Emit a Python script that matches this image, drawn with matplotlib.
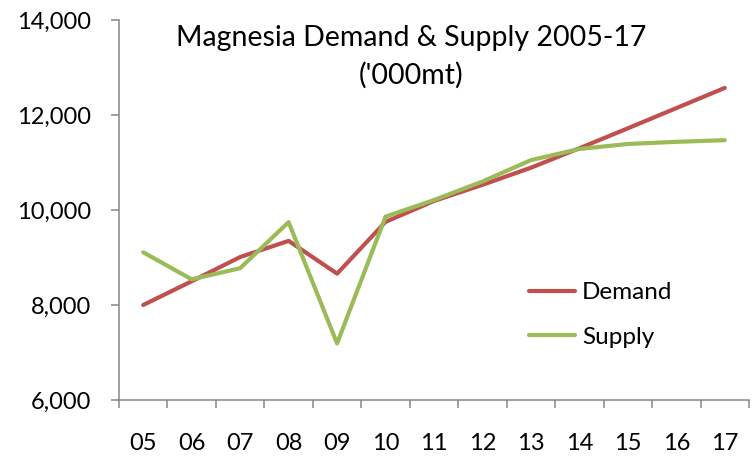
import matplotlib

matplotlib.use("Agg")
import matplotlib.pyplot as plt
from matplotlib.ticker import FuncFormatter, FixedLocator

years = ["05", "06", "07", "08", "09", "10", "11", "12", "13", "14", "15", "16", "17"]
demand = [8000, 8500, 9010, 9350, 8660, 9750, 10190, 10530, 10890, 11300, 11720, 12145, 12570]
supply = [9110, 8540, 8775, 9745, 7190, 9860, 10210, 10600, 11050, 11285, 11390, 11435, 11470]

plt.rcParams["font.family"] = ["Lato", "DejaVu Sans"]

fig = plt.figure(figsize=(7.53, 4.57), dpi=100)
ax = fig.add_axes([119 / 753, 57 / 457, 630 / 753, 380 / 457])

x = list(range(len(years)))
ax.plot(x, demand, color="#C0504D", linewidth=3.0, solid_capstyle="round", label="Demand")
ax.plot(x, supply, color="#9BBB59", linewidth=3.0, solid_capstyle="round", label="Supply")

ax.set_xlim(-0.5, len(years) - 0.5)
ax.set_ylim(6000, 14000)
ax.set_yticks(range(6000, 14001, 2000))
ax.yaxis.set_major_formatter(FuncFormatter(lambda v, _: f"{int(v):,}"))

# category boundaries get tick marks, labels sit at the centres
ax.xaxis.set_major_locator(FixedLocator([i - 0.5 for i in range(len(years) + 1)]))
ax.xaxis.set_minor_locator(FixedLocator(x))
ax.set_xticklabels([])
ax.set_xticklabels(years, minor=True)

spine_color = "#868686"
for side in ("top", "right"):
    ax.spines[side].set_visible(False)
for side in ("left", "bottom"):
    ax.spines[side].set_color(spine_color)
    ax.spines[side].set_linewidth(1.1)

ax.tick_params(axis="x", which="major", direction="out", length=6, width=1.1, color=spine_color)
ax.tick_params(axis="x", which="minor", length=0, pad=24, labelsize=17)
ax.tick_params(axis="y", direction="out", length=6, width=1.1, color=spine_color,
               pad=14, labelsize=17)

fig.text(411 / 753, 1 - 46 / 457, "Magnesia Demand & Supply 2005-17",
         ha="center", va="baseline", fontsize=20.5)
fig.text(411 / 753, 1 - 84 / 457, "('000mt)",
         ha="center", va="baseline", fontsize=20.5)

ax.legend(loc="upper left", bbox_to_anchor=(0.635, 0.335), frameon=False, fontsize=17.5,
          handlelength=1.9, handletextpad=0.3, labelspacing=0.95, borderaxespad=0)

fig.savefig("out.png", dpi=100)
